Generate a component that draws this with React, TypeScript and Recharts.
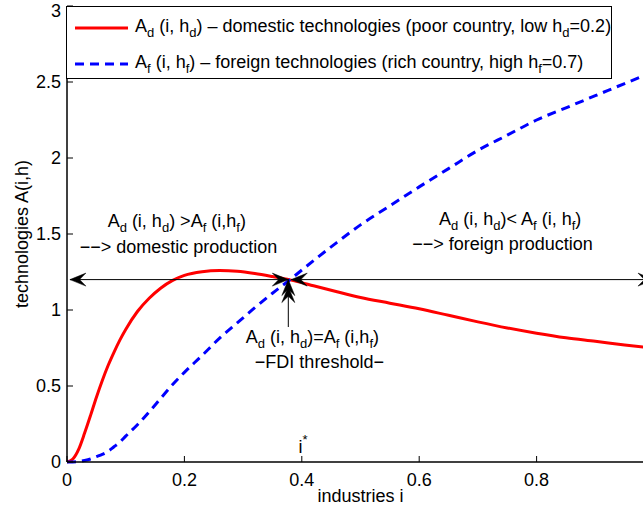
import React from "react";
import {
  LineChart,
  Line,
  XAxis,
  YAxis,
  ReferenceLine,
  ReferenceDot,
  Legend,
} from "recharts";

const FONT = "'Liberation Sans', Arial, Helvetica, sans-serif";
const FS = 18;
const SUB = 13;

// industries i (x values)
const industries = [
  0, 0.01, 0.02, 0.03, 0.04, 0.05, 0.06, 0.07, 0.08, 0.09, 0.1, 0.12, 0.14,
  0.16, 0.18, 0.2, 0.23, 0.26, 0.29, 0.32, 0.35, 0.38, 0.42, 0.46, 0.5, 0.55,
  0.6, 0.65, 0.7, 0.75, 0.8, 0.85, 0.9, 0.95, 1,
];

// A_d(i, h_d) - domestic technologies, h_d = 0.2
const domestic = [
  0, 0.02, 0.085, 0.19, 0.305, 0.425, 0.535, 0.635, 0.722, 0.802, 0.872, 0.99,
  1.077, 1.145, 1.195, 1.228, 1.252, 1.26, 1.255, 1.24, 1.22, 1.198, 1.16,
  1.12, 1.082, 1.045, 1.008, 0.965, 0.922, 0.882, 0.847, 0.817, 0.794, 0.77,
  0.748,
];

// A_f(i, h_f) - foreign technologies, h_f = 0.7
const foreign = [
  0, 0, 0.003, 0.01, 0.02, 0.035, 0.05, 0.07, 0.1, 0.13, 0.17, 0.245, 0.33,
  0.42, 0.51, 0.59, 0.7, 0.815, 0.915, 1.015, 1.11, 1.2, 1.325, 1.445, 1.56,
  1.685, 1.81, 1.93, 2.05, 2.15, 2.25, 2.33, 2.41, 2.49, 2.57,
];

const xTicks = [0, 0.2, 0.4, 0.6, 0.8, 1];
const yTicks = [0, 0.5, 1, 1.5, 2, 2.5, 3];

// crossing point (FDI threshold)
const iStar = 0.377;
const aStar = 1.2;

type Seg = { t: string; sub?: boolean; sup?: boolean };

const legendItems: { color: string; dash?: string; label: Seg[] }[] = [
  {
    color: "#ff0000",
    label: [
      { t: "A" },
      { t: "d", sub: true },
      { t: " (i, h" },
      { t: "d", sub: true },
      { t: ") \u2013 domestic technologies (poor country, low h" },
      { t: "d", sub: true },
      { t: "=0.2)" },
    ],
  },
  {
    color: "#0000ff",
    dash: "9 6",
    label: [
      { t: "A" },
      { t: "f", sub: true },
      { t: " (i, h" },
      { t: "f", sub: true },
      { t: ") \u2013 foreign technologies (rich country, high h" },
      { t: "f", sub: true },
      { t: "=0.7)" },
    ],
  },
];

const chartData = industries.map((i, k) => ({
  i,
  domestic: domestic[k],
  foreign: foreign[k],
}));

const RichText = ({
  cx,
  cy,
  segs,
}: {
  cx: number;
  cy: number;
  segs: Seg[];
}) => {
  let shift = 0;
  const spans = segs.map((s, k) => {
    const target = s.sub ? 5 : s.sup ? -9 : 0;
    const dy = target - shift;
    shift = target;
    return (
      <tspan key={k} dy={dy} fontSize={s.sub || s.sup ? SUB : FS}>
        {s.t}
      </tspan>
    );
  });
  return (
    <text
      x={cx}
      y={cy}
      textAnchor="middle"
      fontFamily={FONT}
      fontSize={FS}
      fill="#000"
    >
      {spans}
    </text>
  );
};

const headPath = (
  tx: number,
  ty: number,
  ux: number,
  uy: number,
  len: number,
  wid: number
) => {
  const nx = -uy;
  const ny = ux;
  const bx = tx - ux * len;
  const by = ty - uy * len;
  const mx = tx - ux * len * 0.6;
  const my = ty - uy * len * 0.6;
  return `M${tx},${ty} L${bx + (nx * wid) / 2},${by + (ny * wid) / 2} L${mx},${my} L${bx - (nx * wid) / 2},${by - (ny * wid) / 2} Z`;
};

const arrowShape =
  (start: boolean, end: boolean, doubled = false) =>
  (props: any) => {
    const { x1, y1, x2, y2 } = props;
    const d = Math.hypot(x2 - x1, y2 - y1) || 1;
    const ux = (x2 - x1) / d;
    const uy = (y2 - y1) / d;
    const paths: string[] = [];
    if (end) {
      paths.push(headPath(x2, y2, ux, uy, 16, 13));
      if (doubled) paths.push(headPath(x2 - ux * 7, y2 - uy * 7, ux, uy, 16, 13));
    }
    if (start) paths.push(headPath(x1, y1, -ux, -uy, 16, 13));
    return (
      <g>
        <line x1={x1} y1={y1} x2={x2} y2={y2} stroke="#000" strokeWidth={1} />
        {paths.map((p, k) => (
          <path key={k} d={p} fill="#000" stroke="#000" strokeWidth={0.5} />
        ))}
      </g>
    );
  };

const notes: { x: number; y: number; segs: Seg[] }[] = [
  {
    x: 0.187,
    y: 1.546,
    segs: [
      { t: "A" },
      { t: "d", sub: true },
      { t: " (i, h" },
      { t: "d", sub: true },
      { t: ") >A" },
      { t: "f", sub: true },
      { t: " (i,h" },
      { t: "f", sub: true },
      { t: ")" },
    ],
  },
  { x: 0.19, y: 1.377, segs: [{ t: "\u2212\u2212> domestic production" }] },
  {
    x: 0.755,
    y: 1.56,
    segs: [
      { t: "A" },
      { t: "d", sub: true },
      { t: " (i, h" },
      { t: "d", sub: true },
      { t: ")< A" },
      { t: "f", sub: true },
      { t: " (i, h" },
      { t: "f", sub: true },
      { t: ")" },
    ],
  },
  { x: 0.742, y: 1.395, segs: [{ t: "\u2212\u2212> foreign production" }] },
  {
    x: 0.418,
    y: 0.783,
    segs: [
      { t: "A" },
      { t: "d", sub: true },
      { t: " (i, h" },
      { t: "d", sub: true },
      { t: ")=A" },
      { t: "f", sub: true },
      { t: " (i,h" },
      { t: "f", sub: true },
      { t: ")" },
    ],
  },
  { x: 0.43, y: 0.618, segs: [{ t: "\u2212FDI threshold\u2212" }] },
  { x: 0.402, y: 0.059, segs: [{ t: "i" }, { t: "*", sup: true }] },
];

const LegendBox = () => (
  <div
    style={{
      position: "relative",
      width: 546,
      height: 73,
      boxSizing: "border-box",
      border: "1px solid #000",
      background: "#fff",
      fontFamily: FONT,
      fontSize: FS,
      color: "#000",
      lineHeight: "18px",
    }}
  >
    {legendItems.map((item, k) => (
      <div
        key={k}
        style={{
          position: "absolute",
          left: 7,
          top: 10 + k * 36,
          display: "flex",
          alignItems: "center",
          whiteSpace: "pre",
        }}
      >
        <svg width={54} height={18} style={{ marginRight: 7 }}>
          <line
            x1={1}
            y1={10}
            x2={54}
            y2={10}
            stroke={item.color}
            strokeWidth={3}
            strokeDasharray={item.dash}
          />
        </svg>
        <span>
          {item.label.map((s, j) =>
            s.sub ? (
              <span
                key={j}
                style={{ fontSize: SUB, position: "relative", top: 5 }}
              >
                {s.t}
              </span>
            ) : (
              <span key={j}>{s.t}</span>
            )
          )}
        </span>
      </div>
    ))}
  </div>
);

export default function App() {
  return (
    <div
      style={{
        position: "absolute",
        left: 0,
        top: 0,
        width: 643,
        height: 515,
        overflow: "hidden",
        background: "#fff",
      }}
    >
      <LineChart
        width={654}
        height={515}
        data={chartData}
        margin={{ top: 6, right: 0, left: 0, bottom: 0 }}
      >
        <XAxis
          dataKey="i"
          type="number"
          domain={[0, 1]}
          ticks={xTicks}
          height={53}
          tickSize={-6}
          tickMargin={17}
          // the "1" label falls outside the cropped picture
          tickFormatter={(v: number) => (v >= 1 ? "" : String(v))}
          axisLine={{ stroke: "#000", strokeWidth: 1.5 }}
          tickLine={{ stroke: "#000" }}
          tick={{ fontSize: FS, fill: "#000", fontFamily: FONT }}
          label={{
            value: "industries i",
            position: "insideBottom",
            offset: 13,
            fontSize: FS,
            fill: "#000",
            fontFamily: FONT,
          }}
        />
        <XAxis
          xAxisId="top"
          orientation="top"
          type="number"
          domain={[0, 1]}
          ticks={xTicks}
          height={0}
          tickSize={-6}
          tick={false}
          axisLine={{ stroke: "#000", strokeWidth: 1.5 }}
          tickLine={{ stroke: "#000" }}
        />
        <YAxis
          type="number"
          domain={[0, 3]}
          ticks={yTicks}
          width={67}
          tickSize={-6}
          tickMargin={12}
          axisLine={{ stroke: "#000", strokeWidth: 1.5 }}
          tickLine={{ stroke: "#000" }}
          tick={{ fontSize: FS, fill: "#000", fontFamily: FONT }}
          label={{
            content: (p: any) => {
              const vb = p.viewBox || {};
              const cy = (vb.y || 0) + (vb.height || 0) / 2;
              return (
                <text
                  x={22}
                  y={cy}
                  transform={`rotate(-90, 22, ${cy})`}
                  textAnchor="middle"
                  dominantBaseline="central"
                  fontSize={FS}
                  fontFamily={FONT}
                  fill="#000"
                >
                  technologies A(i,h)
                </text>
              );
            },
          }}
        />
        <YAxis
          yAxisId="right"
          orientation="right"
          type="number"
          domain={[0, 3]}
          ticks={yTicks}
          width={0}
          tickSize={-6}
          tick={false}
          axisLine={{ stroke: "#000", strokeWidth: 1.5 }}
          tickLine={{ stroke: "#000" }}
        />
        <Line
          dataKey="domestic"
          type="monotone"
          stroke="#ff0000"
          strokeWidth={3}
          dot={false}
          isAnimationActive={false}
        />
        <Line
          dataKey="foreign"
          type="monotone"
          stroke="#0000ff"
          strokeWidth={3}
          strokeDasharray="9 6"
          dot={false}
          isAnimationActive={false}
        />
        <ReferenceLine
          segment={[
            { x: 0.005, y: aStar },
            { x: iStar, y: aStar },
          ]}
          shape={arrowShape(true, true)}
        />
        <ReferenceLine
          segment={[
            { x: iStar + 0.005, y: aStar },
            { x: 1, y: aStar },
          ]}
          shape={arrowShape(true, true)}
        />
        <ReferenceLine
          segment={[
            { x: iStar, y: 0.888 },
            { x: iStar, y: aStar },
          ]}
          shape={arrowShape(false, true, true)}
        />
        {notes.map((n, k) => (
          <ReferenceDot
            key={k}
            x={n.x}
            y={n.y}
            r={0}
            shape={(p: any) => <RichText cx={p.cx} cy={p.cy} segs={n.segs} />}
          />
        ))}
        <Legend
          layout="vertical"
          align="center"
          verticalAlign="middle"
          content={() => <LegendBox />}
          wrapperStyle={{
            position: "absolute",
            left: 66,
            top: 6,
            width: 546,
            height: 73,
          }}
        />
      </LineChart>
    </div>
  );
}
